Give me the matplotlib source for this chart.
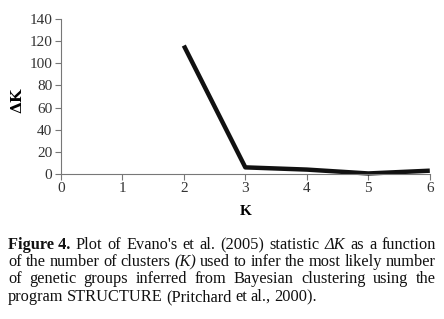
import matplotlib
matplotlib.use("Agg")
import matplotlib.pyplot as plt

# Data
kValues = [2, 3, 4, 5, 6]
deltaK = [116, 6, 4, 0.5, 3]
xTicks = [0, 1, 2, 3, 4, 5, 6]
yTicks = [0, 20, 40, 60, 80, 100, 120, 140]

captionLines = [
    [("Figure 4.", "bold", "normal"), ("Plot", "normal", "normal"), ("of", "normal", "normal"),
     ("Evano's", "normal", "normal"), ("et", "normal", "normal"), ("al.", "normal", "normal"),
     ("(2005)", "normal", "normal"), ("statistic", "normal", "normal"), ("ΔK", "normal", "italic"),
     ("as", "normal", "normal"), ("a", "normal", "normal"), ("function", "normal", "normal")],
    [("of", "normal", "normal"), ("the", "normal", "normal"), ("number", "normal", "normal"),
     ("of", "normal", "normal"), ("clusters", "normal", "normal"), ("(K)", "normal", "italic"),
     ("used", "normal", "normal"), ("to", "normal", "normal"), ("infer", "normal", "normal"),
     ("the", "normal", "normal"), ("most", "normal", "normal"), ("likely", "normal", "normal"),
     ("number", "normal", "normal")],
    [("of", "normal", "normal"), ("genetic", "normal", "normal"), ("groups", "normal", "normal"),
     ("inferred", "normal", "normal"), ("from", "normal", "normal"), ("Bayesian", "normal", "normal"),
     ("clustering", "normal", "normal"), ("using", "normal", "normal"), ("the", "normal", "normal")],
    [("program", "normal", "normal"), ("STRUCTURE", "normal", "normal"), ("(Pritchard", "normal", "normal"),
     ("et", "normal", "normal"), ("al.,", "normal", "normal"), ("2000).", "normal", "normal")],
]

plt.rcParams["font.family"] = ["Liberation Serif", "DejaVu Serif"]

fig = plt.figure(figsize=(4.44, 3.19), dpi=100)
ax = fig.add_axes([0.137, 0.4545, 0.831, 0.486])

ax.plot(kValues, deltaK, color="#111111", linewidth=3.2, solid_capstyle="butt", clip_on=False)
ax.set_xlim(0, 6)
ax.set_ylim(0, 140)
ax.set_xticks(xTicks)
ax.set_yticks(yTicks)
ax.tick_params(labelsize=11, length=4, width=0.8, color="#777777", labelcolor="#333333", pad=2)
for s in ["top", "right"]:
    ax.spines[s].set_visible(False)
for s in ["left", "bottom"]:
    ax.spines[s].set_color("#777777")
    ax.spines[s].set_linewidth(0.8)

fig.text(0.04, 0.685, "ΔK", rotation=90, fontsize=11, fontweight="bold",
         ha="center", va="center", family=["DejaVu Serif"])
fig.text(0.553, 0.338, "K", fontsize=11, fontweight="bold", ha="center", va="center")

# Justified caption, word by word
fig.canvas.draw()
renderer = fig.canvas.get_renderer()
figW = fig.bbox.width
left, right = 8, 436
lineY = [245, 262, 279, 297]
for i, words in enumerate(captionLines):
    arts = []
    for w, weight, style in words:
        t = fig.text(0, 0, w, fontsize=11.8, fontweight=weight, fontstyle=style,
                     color="#111111", va="baseline", ha="left")
        arts.append(t)
    widths = [a.get_window_extent(renderer).width for a in arts]
    if i < len(captionLines) - 1:
        gap = (right - left - sum(widths)) / (len(arts) - 1)
    else:
        gap = 3.5
    x = left
    yFig = 1 - (lineY[i] + 4) / 319
    for a, w in zip(arts, widths):
        a.set_position((x / figW, yFig))
        x += w + gap

fig.savefig("out.png", dpi=100)
